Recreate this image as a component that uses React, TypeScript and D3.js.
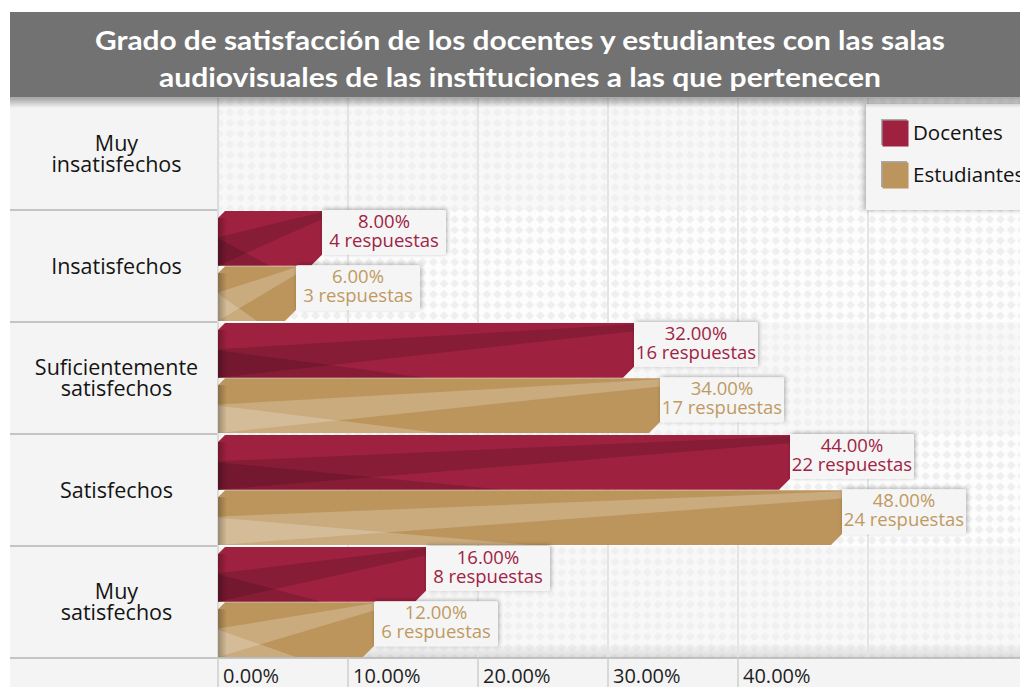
import React from "react";
import { scaleBand, scaleLinear } from "d3";

// categories (split in the lines shown on the left panel)
const categoryLines: string[][] = [
  ["Muy", "insatisfechos"],
  ["Insatisfechos"],
  ["Suficientemente", "satisfechos"],
  ["Satisfechos"],
  ["Muy", "satisfechos"],
];
const seriesNames = ["Docentes", "Estudiantes"];
const docentesPct = [0, 8, 32, 44, 16];
const docentesResp = [0, 4, 16, 22, 8];
const estudiantesPct = [0, 6, 34, 48, 12];
const estudiantesResp = [0, 3, 17, 24, 6];
const tickValues = [0, 10, 20, 30, 40];
const gridValues = [10, 20, 30, 40, 50];
const titleLines = [
  "Grado de satisfacción de los docentes y estudiantes con las salas",
  "audiovisuales de las instituciones a las que pertenecen",
];

const W = 1020;
const H = 687;
const plotTop = 98;
const plotBottom = 658;
const panelLeft = 10;
const panelRight = 217;

const colors: Record<string, string> = { Docentes: "#9e2140", Estudiantes: "#bc955c" };
const textColors: Record<string, string> = { Docentes: "#a02343", Estudiantes: "#c09a62" };

const FONT = "'Open Sans', sans-serif";

export default function App() {
  const keys = categoryLines.map((l) => l.join(" "));
  const y = scaleBand<string>().domain(keys).range([plotTop, plotBottom]).padding(0);
  const sub = scaleBand<string>().domain(seriesNames).range([1, y.bandwidth() - 1]).paddingInner(0.01);
  const x = scaleLinear().domain([0, 60]).range([218, 998]);

  const seriesData = [
    { name: "Docentes", pct: docentesPct, resp: docentesResp },
    { name: "Estudiantes", pct: estudiantesPct, resp: estudiantesResp },
  ];

  // bar outline with small cut corners
  const barPath = (w: number, h: number) => {
    const c1 = 7, c2 = 11;
    return `M0,${c1} L${c1},0 L${w},0 L${w},${h - c2} L${w - c2},${h} L0,${h} Z`;
  };

  return (
    <div style={{ position: "absolute", left: 0, top: 0 }}>
      <svg width={W} height={H} style={{ display: "block", background: "#fff" }}>
        <defs>
          <pattern id="diaA" width={10.7} height={10.7} patternUnits="userSpaceOnUse">
            <rect width={10.7} height={10.7} fill="#fdfdfd" />
            <polygon points="5.35,0.9 9.8,5.35 5.35,9.8 0.9,5.35" fill="#efefef" />
          </pattern>
          <pattern id="diaB" width={10.7} height={10.7} patternUnits="userSpaceOnUse">
            <rect width={10.7} height={10.7} fill="#f8f8f8" />
            <polygon points="5.35,0.9 9.8,5.35 5.35,9.8 0.9,5.35" fill="#f0f0f0" />
          </pattern>
          <linearGradient id="titleShadow" x1="0" y1="0" x2="0" y2="1">
            <stop offset="0" stopColor="#000" stopOpacity={0.35} />
            <stop offset="1" stopColor="#000" stopOpacity={0} />
          </linearGradient>
          <linearGradient id="bottomShadow" x1="0" y1="0" x2="0" y2="1">
            <stop offset="0" stopColor="#000" stopOpacity={0} />
            <stop offset="1" stopColor="#000" stopOpacity={0.12} />
          </linearGradient>
          <linearGradient id="leftEdge" x1="0" y1="0" x2="1" y2="0">
            <stop offset="0" stopColor="#000" stopOpacity={0.28} />
            <stop offset="1" stopColor="#000" stopOpacity={0} />
          </linearGradient>
          <filter id="boxShadow" x="-20%" y="-30%" width="140%" height="160%">
            <feDropShadow dx={1} dy={-1} stdDeviation={2} floodColor="#000" floodOpacity={0.3} />
          </filter>
          <filter id="legendShadow" x="-20%" y="-20%" width="140%" height="140%">
            <feDropShadow dx={-2} dy={0} stdDeviation={2.5} floodColor="#000" floodOpacity={0.3} />
          </filter>
        </defs>

        {/* plot background rows */}
        {keys.map((k, i) => (
          <rect
            key={k}
            x={panelRight}
            y={y(k)}
            width={W - panelRight}
            height={y.bandwidth()}
            fill={i % 2 === 1 ? "url(#diaA)" : "url(#diaB)"}
          />
        ))}
        <rect x={panelRight} y={plotBottom - 14} width={W - panelRight} height={14} fill="url(#bottomShadow)" />

        {/* grid lines */}
        {gridValues.map((v) => (
          <line key={v} x1={x(v)} x2={x(v)} y1={plotTop} y2={plotBottom} stroke="#e4e4e4" strokeWidth={2} />
        ))}

        {/* left category panel */}
        <rect x={panelLeft} y={plotTop} width={panelRight - panelLeft} height={H - plotTop} fill="#f4f4f4" />
        <line x1={panelRight + 1} x2={panelRight + 1} y1={plotTop} y2={plotBottom} stroke="#dcdcdc" strokeWidth={2} />
        {keys.map((k, i) => {
          const lines = categoryLines[i];
          const cy = (y(k) ?? 0) + y.bandwidth() / 2;
          const lh = 21;
          return (
            <g key={k}>
              {i > 0 && (
                <line x1={panelLeft} x2={panelRight} y1={y(k)} y2={y(k)} stroke="#b4b4b4" strokeWidth={1.5} />
              )}
              {lines.map((t, j) => (
                <text
                  key={j}
                  x={(panelLeft + panelRight) / 2 + 3}
                  y={cy + (j - (lines.length - 1) / 2) * lh}
                  dy="0.36em"
                  textAnchor="middle"
                  fontFamily={FONT}
                  fontSize={21.5}
                  fill="#141414"
                >
                  {t}
                </text>
              ))}
            </g>
          );
        })}

        {/* bars */}
        {seriesData.map((s) =>
          keys.map((k, i) => {
            const v = s.pct[i];
            if (!v) return null;
            const x0 = x(0);
            const bw = x(v) - x0;
            const by = (y(k) ?? 0) + (sub(s.name) ?? 0);
            const bh = sub.bandwidth();
            const dark = s.name === "Docentes";
            const ov = dark ? "#000" : "#fff";
            const op = dark ? 0.14 : 0.21;
            return (
              <g key={s.name + k} transform={`translate(${x0},${by})`}>
                <path d={barPath(bw, bh)} fill={colors[s.name]} />
                <polygon
                  points={`0,${bh * 0.48} ${bw},${bh * 0.02} ${bw},${bh * 0.15} 0,${bh}`}
                  fill={ov}
                  fillOpacity={op}
                />
                <polygon points={`0,${bh * 0.5} ${bw * 0.5},${bh} 0,${bh}`} fill={ov} fillOpacity={op} />
                <rect x={0} y={7} width={9} height={bh - 7} fill="url(#leftEdge)" />
              </g>
            );
          })
        )}

        {/* value labels */}
        {seriesData.map((s) =>
          keys.map((k, i) => {
            const v = s.pct[i];
            if (!v) return null;
            const bx = x(v);
            const by = (y(k) ?? 0) + (sub(s.name) ?? 0) - 1;
            const bwid = 124;
            return (
              <g key={"lab" + s.name + k}>
                <rect x={bx} y={by} width={bwid} height={45} fill="#f5f5f5" rx={2} filter="url(#boxShadow)" />
                <text
                  x={bx + bwid / 2}
                  y={by + 18}
                  textAnchor="middle"
                  fontFamily={FONT}
                  fontSize={18.5}
                  fill={textColors[s.name]}
                >
                  {v.toFixed(2)}%
                </text>
                <text
                  x={bx + bwid / 2}
                  y={by + 36.5}
                  textAnchor="middle"
                  fontFamily={FONT}
                  fontSize={18.5}
                  fill={textColors[s.name]}
                >
                  {s.resp[i]} respuestas
                </text>
              </g>
            );
          })
        )}

        {/* x axis */}
        <rect x={panelRight} y={plotBottom} width={W - panelRight} height={H - plotBottom} fill="#f4f4f4" />
        <line x1={panelLeft} x2={W} y1={plotBottom} y2={plotBottom} stroke="#b4b4b4" strokeWidth={1.5} />
        {tickValues.map((v) => (
          <g key={v}>
            <line x1={x(v)} x2={x(v)} y1={plotBottom} y2={H} stroke="#cfcfcf" strokeWidth={1.5} />
            <text x={x(v) + 5} y={H - 4} fontFamily={FONT} fontSize={20} fill="#1e1e1e">
              {v.toFixed(2)}%
            </text>
          </g>
        ))}

        {/* legend */}
        <g filter="url(#legendShadow)">
          <rect x={866} y={104} width={W - 866 + 10} height={106} fill="#f5f5f5" />
        </g>
        {seriesNames.map((n, i) => (
          <g key={n} transform={`translate(881,${119 + i * 42})`}>
            <rect x={0} y={0} width={26} height={26} fill="#a9a9a9" />
            <rect x={1.5} y={1.5} width={26} height={26} fill={colors[n]} />
            <text x={32} y={14} dy="0.36em" fontFamily={FONT} fontSize={20.5} fill="#111">
              {n}
            </text>
          </g>
        ))}

        {/* title */}
        <rect x={panelLeft} y={97} width={W - panelLeft} height={11} fill="url(#titleShadow)" />
        <rect x={panelLeft} y={12} width={W - panelLeft} height={85} fill="#717271" />
        {titleLines.map((t, i) => (
          <text
            key={i}
            x={520}
            y={40 + i * 37}
            dy="0.36em"
            textAnchor="middle"
            fontFamily="Lato, sans-serif"
            fontWeight="bold"
            fontSize={27}
            fill="#fff"
            textLength={i === 0 ? 850 : 722}
            lengthAdjust="spacingAndGlyphs"
          >
            {t}
          </text>
        ))}
      </svg>
    </div>
  );
}
